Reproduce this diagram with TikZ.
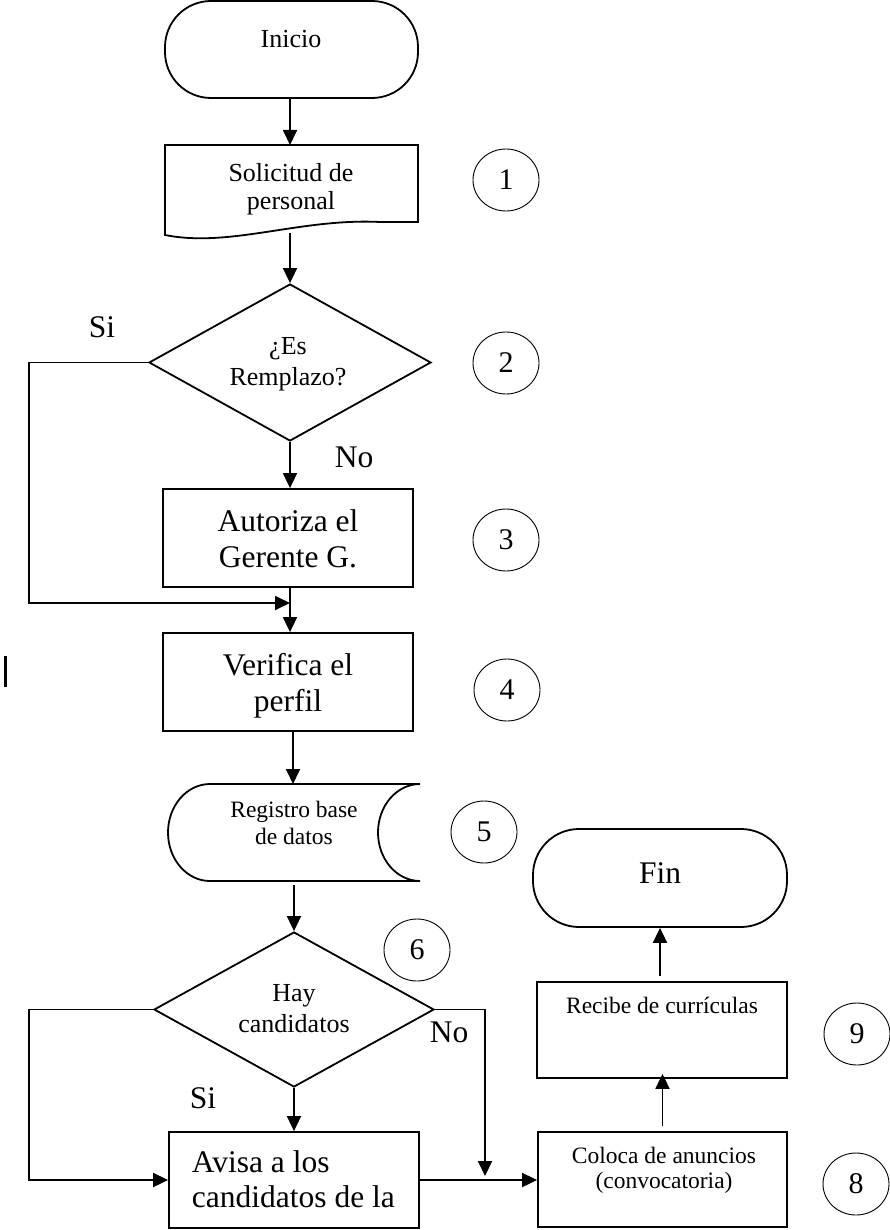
\documentclass[tikz,border=0pt]{standalone}
\usepackage{fontspec}
\setmainfont{Liberation Serif}
\usetikzlibrary{arrows.meta,shapes.geometric}
\begin{document}
\begin{tikzpicture}[x=1pt,y=-1pt,
  line width=1.8pt,
  flow/.style={-{Triangle[length=15pt,width=14pt]}},
  proc/.style={draw, rectangle, inner sep=0pt, minimum width=250pt, minimum height=98pt},
  term/.style={draw, rectangle, rounded corners=46pt, inner sep=0pt, minimum width=253pt, minimum height=97pt},
  decision/.style={draw, diamond, inner sep=0pt},
  numcirc/.style={draw, ellipse, line width=0.9pt, minimum width=66pt, minimum height=62pt, inner sep=0pt, font=\fontsize{30}{30}\selectfont},
  txts/.style={anchor=base, inner sep=0pt, font=\fontsize{26}{30}\selectfont},
  txtxs/.style={anchor=base, inner sep=0pt, font=\fontsize{23.5}{27}\selectfont},
  txtl/.style={anchor=base, inner sep=0pt, font=\fontsize{31.5}{36}\selectfont},
]
\fill[white] (0,0) rectangle (889,1230);
\useasboundingbox (0,0) rectangle (889,1230);

% ---- main column ----
\node[term] (ini) at (291.5,49.5) {};
\node[txts] (ini-t) at (291,48) {Inicio};

% document shape
\draw (165,145) -- (418,145) -- (418,222) -- (380,222)
  .. controls (300,218) and (230,248) .. (165,235) -- cycle;
\coordinate (sol-n) at (290,145);
\coordinate (sol-s) at (290,233);
\node[txts] (sol-t1) at (291,182) {Solicitud de};
\node[txts] (sol-t2) at (291,210) {personal};

\node[decision, minimum width=282pt, minimum height=157pt] (dia1) at (290,362.5) {};
\node[txts] (dia1-t1) at (288,354) {¿Es};
\node[txts] (dia1-t2) at (288,385) {Remplazo?};

\node[proc] (aut) at (288,538) {};
\node[txtl] (aut-t1) at (288,531) {Autoriza el};
\node[txtl] (aut-t2) at (288,567) {Gerente G.};

\node[proc] (ver) at (288,682) {};
\node[txtl] (ver-t1) at (288,675) {Verifica el};
\node[txtl] (ver-t2) at (288,711) {perfil};

% stored data shape
\draw (210,784) -- (420,784)
  arc[start angle=270, end angle=90, x radius=42, y radius=48.5]
  -- (210,881)
  arc[start angle=90, end angle=270, x radius=42, y radius=48.5] -- cycle;
\coordinate (reg-n) at (293,784);
\coordinate (reg-s) at (294,885);
\node[txtxs] (reg-t1) at (294,817) {Registro base};
\node[txtxs] (reg-t2) at (294,844) {de datos};

\node[decision, minimum width=280pt, minimum height=155pt] (dia2) at (294,1009.5) {};
\node[txts] (dia2-t1) at (294,1001) {Hay};
\node[txts] (dia2-t2) at (294,1032) {candidatos};

\node[proc, minimum height=96pt] (avi) at (294,1180) {};
\node[txtl, anchor=base west] (avi-t1) at (191,1172) {Avisa a los};
\node[txtl, anchor=base west] (avi-t2) at (191,1207) {candidatos de la};

% ---- right column ----
\node[proc, minimum width=249pt, minimum height=95pt] (col) at (662.5,1179.5) {};
\node[txtxs] (col-t1) at (664,1163) {Coloca de anuncios};
\node[txtxs] (col-t2) at (664,1188) {(convocatoria)};

\node[proc, minimum height=96pt] (rec) at (662,1030) {};
\node[txtxs] (rec-t) at (662,1013) {Recibe de currículas};

\node[term, minimum width=254pt, minimum height=98pt] (fin) at (660,878) {};
\node[txtl] (fin-t) at (660,883) {Fin};

% ---- branch labels ----
\node[txtl] (si1) at (102,337) {Si};
\node[txtl] (no1) at (354,467) {No};
\node[txtl] (si2) at (203,1108) {Si};
\node[txtl] (no2) at (449,1042) {No};

% ---- step numbers ----
\node[numcirc] (n1) at (506,180) {1};
\node[numcirc] (n2) at (506,363) {2};
\node[numcirc] (n3) at (506,540) {3};
\node[numcirc] (n4) at (507,690) {4};
\node[numcirc] (n5) at (484,832) {5};
\node[numcirc] (n6) at (417,950) {6};
\node[numcirc] (n9) at (857,1034) {9};
\node[numcirc] (n8) at (856,1184) {8};

% ---- connectors ----
\coordinate (join1) at (290,603);
\coordinate (lpx) at (29,0);
\coordinate (nrx) at (485,0);
\coordinate (nj) at (485,1176);

\draw[flow] (ini.south -| sol-n) -- (sol-n);
\draw[flow] (sol-s) -- (dia1.north);
\draw[flow] (dia1.south) -- (dia1.south |- aut.north);
\draw[flow] (dia1.west) -- (dia1.west -| lpx) |- (join1);
\draw[flow] (aut.south -| join1) -- (ver.north -| join1);
\draw[flow] (ver.south -| reg-n) -- (reg-n);
\draw[flow] (reg-s) -- (dia2.north);
\draw[flow] (dia2.south) -- (dia2.south |- avi.north);
\draw[flow] (dia2.west) -- (dia2.west -| lpx) |- (avi.west);
\draw[flow] (dia2.east) -- (dia2.east -| nrx) -- (nj);
\draw[flow] (avi.east) -- (avi.east -| col.west);
\draw[flow] ([yshift=5pt]col.north) -- ([yshift=5pt]col.north |- rec.south);
\draw[flow] ([yshift=5pt]rec.north -| fin.south) -- (fin.south);

% text cursor mark
\draw[line width=3pt] (5,656) -- (5,687);
\end{tikzpicture}
\end{document}
